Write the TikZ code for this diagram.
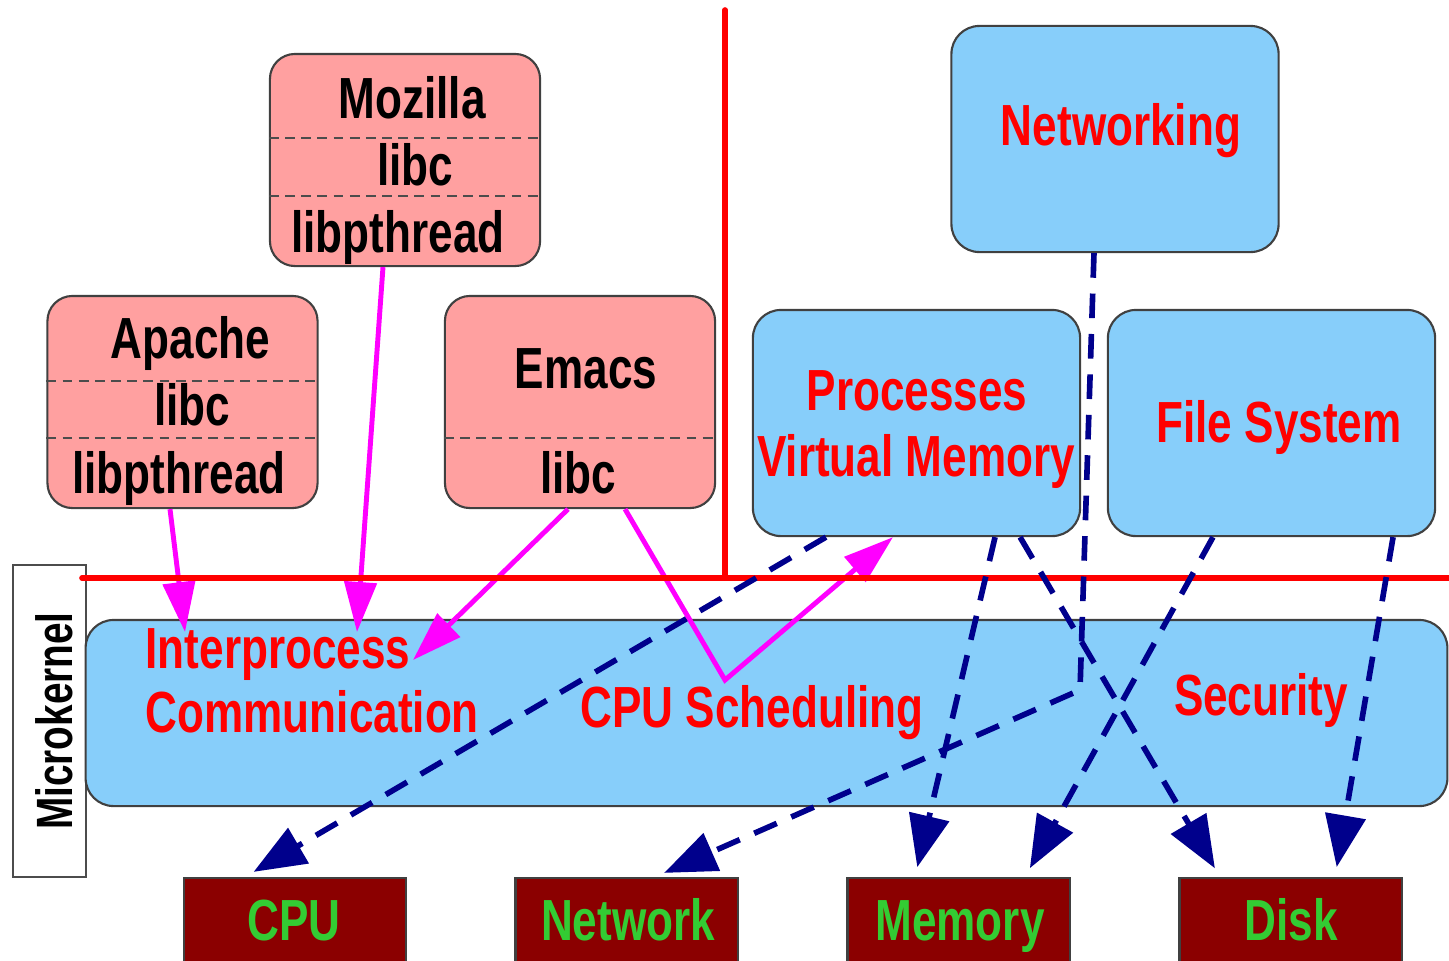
\documentclass[tikz,border=0pt]{standalone}
\usepackage{fontspec}
\newfontfamily\narrowsf{Liberation Sans}[FakeStretch=0.76]
\usetikzlibrary{arrows.meta}

\definecolor{apppink}{RGB}{255,160,160}
\definecolor{servblue}{RGB}{135,206,250}
\definecolor{hwred}{RGB}{139,0,0}
\definecolor{hwgreen}{RGB}{51,204,51}
\definecolor{callnavy}{RGB}{0,0,140}
\definecolor{callpink}{RGB}{255,0,255}

\begin{document}
\begin{tikzpicture}[x=0.01cm,y=-0.01cm]
  \tikzstyle{app}=[rectangle,rounded corners=0.25cm,draw=black!75,fill=apppink,line width=0.6pt,minimum width=2.7cm,minimum height=2.12cm]
  \tikzstyle{serv}=[rectangle,rounded corners=0.28cm,draw=black!75,fill=servblue,line width=0.6pt,minimum width=3.27cm,minimum height=2.26cm]
  \tikzstyle{hw}=[rectangle,draw=black!75,fill=hwred,line width=0.6pt,minimum width=2.22cm,minimum height=1.76cm]
  \tikzstyle{txt}=[font=\narrowsf\bfseries\fontsize{16.5}{19}\selectfont,inner sep=0pt,anchor=base]
  \tikzstyle{apptxt}=[txt,text=black]
  \tikzstyle{servtxt}=[txt,text=red]
  \tikzstyle{hwtxt}=[txt,text=hwgreen]
  \tikzstyle{sep}=[dash pattern=on 2.8pt off 1.8pt,draw=black!70,line width=0.6pt]
  \tikzstyle{call}=[draw=callpink,line width=1.4pt,-{Triangle[length=0.5cm,width=0.32cm]}]
  \tikzstyle{use}=[draw=callnavy,line width=1.6pt,dash pattern=on 7pt off 4.5pt,-{Triangle[length=0.52cm,width=0.4cm]},shorten >=0.1cm]
  \tikzstyle{border}=[draw=red,line width=1.6pt,line cap=round]

  \path[use as bounding box] (0,0) rectangle (1449,960);
  \clip (0,0) rectangle (1449,960);

  % user space
  \node[app] (mozilla) at (405,160) {};
  \node[app] (apache) at (182.5,402) {};
  \node[app] (emacs) at (580,402) {};
  \draw[sep] (mozilla.west |- 0,138) -- (mozilla.east |- 0,138);
  \draw[sep] (mozilla.west |- 0,196) -- (mozilla.east |- 0,196);
  \draw[sep] (apache.west |- 0,381) -- (apache.east |- 0,381);
  \draw[sep] (apache.west |- 0,438) -- (apache.east |- 0,438);
  \draw[sep] (emacs.west |- 0,438) -- (emacs.east |- 0,438);
  \node[apptxt] (mozname) at (412,118) {Mozilla};
  \node[apptxt] (mozlibc) at (415,185) {libc};
  \node[apptxt] (mozpth) at (398,252) {libpthread};
  \node[apptxt] (apaname) at (190.5,358) {Apache};
  \node[apptxt] (apalibc) at (192,425) {libc};
  \node[apptxt] (apapth) at (179,493) {libpthread};
  \node[apptxt] (emaname) at (586,388) {Emacs};
  \node[apptxt] (emalibc) at (578,493) {libc};

  % servers
  \node[serv] (net) at (1115,139) {};
  \node[serv] (procs) at (916.5,423) {};
  \node[serv] (fs) at (1271.5,423) {};
  \node[servtxt] (netname) at (1121,145) {Networking};
  \node[servtxt] (procname) at (917,410) {Processes};
  \node[servtxt] (vmname) at (916,476) {Virtual Memory};
  \node[servtxt] (fsname) at (1279,442) {File System};

  % microkernel
  \node[rectangle,draw=black!70,fill=white,line width=0.6pt,minimum width=0.73cm,minimum height=3.12cm] (mk) at (49.5,721) {};
  \node[txt,font=\narrowsf\bfseries\fontsize{14.5}{17}\selectfont,rotate=90] (mkname) at (72,721) {Microkernel};
  \node[serv,minimum width=13.61cm,minimum height=1.86cm] (kernel) at (766.5,713) {};
  \node[servtxt,anchor=base west] (ipc1) at (145,668) {Interprocess};
  \node[servtxt,anchor=base west] (ipc2) at (145,732) {Communication};
  \node[servtxt] (sched) at (752,727) {CPU Scheduling};
  \node[servtxt] (sec) at (1261,715) {Security};

  % hardware
  \node[hw] (cpu) at (295,966) {};
  \node[hw] (network) at (626.5,966) {};
  \node[hw] (memory) at (958.5,966) {};
  \node[hw] (disk) at (1290.5,966) {};
  \node[hwtxt] (cpuname) at (294,940) {CPU};
  \node[hwtxt] (networkname) at (628,940) {Network};
  \node[hwtxt] (memoryname) at (960,940) {Memory};
  \node[hwtxt] (diskname) at (1291,940) {Disk};

  % system calls
  \coordinate (ipcA) at (185,632);
  \coordinate (ipcB) at (357,632);
  \coordinate (ipcC) at (413,660);
  \coordinate (schedbend) at (725,680);
  \draw[call] ([xshift=-0.125cm]apache.south) -- (ipcA);
  \draw[call] ([xshift=-0.22cm]mozilla.south) -- (ipcB);
  \draw[call] ([xshift=-0.12cm]emacs.south) -- (ipcC);
  \draw[call] ([xshift=0.45cm]emacs.south) -- (schedbend) -- ([xshift=-0.235cm]procs.south);

  % protection boundary
  \coordinate (btop) at (725,10);
  \coordinate (bjoin) at (725,578);
  \coordinate (bleft) at (82,578);
  \coordinate (bright) at (1449,578);
  \draw[border] (btop) -- (bjoin);
  \draw[border] (bleft) -- (bright);

  % hardware access
  \coordinate (netbend) at (1080,690);
  \draw[use] ([xshift=-0.905cm]procs.south) -- ([xshift=-0.5cm]cpu.north);
  \draw[use] ([xshift=0.785cm]procs.south) -- ([xshift=-0.435cm]memory.north);
  \draw[use] ([xshift=1.035cm]procs.south) -- ([xshift=-0.705cm]disk.north);
  \draw[use] ([xshift=-0.21cm]net.south) -- (netbend) -- ([xshift=0.285cm]network.north);
  \draw[use] ([xshift=-0.585cm]fs.south) -- ([xshift=0.665cm]memory.north);
  \draw[use] ([xshift=1.215cm]fs.south) -- ([xshift=0.445cm]disk.north);
\end{tikzpicture}
\end{document}
